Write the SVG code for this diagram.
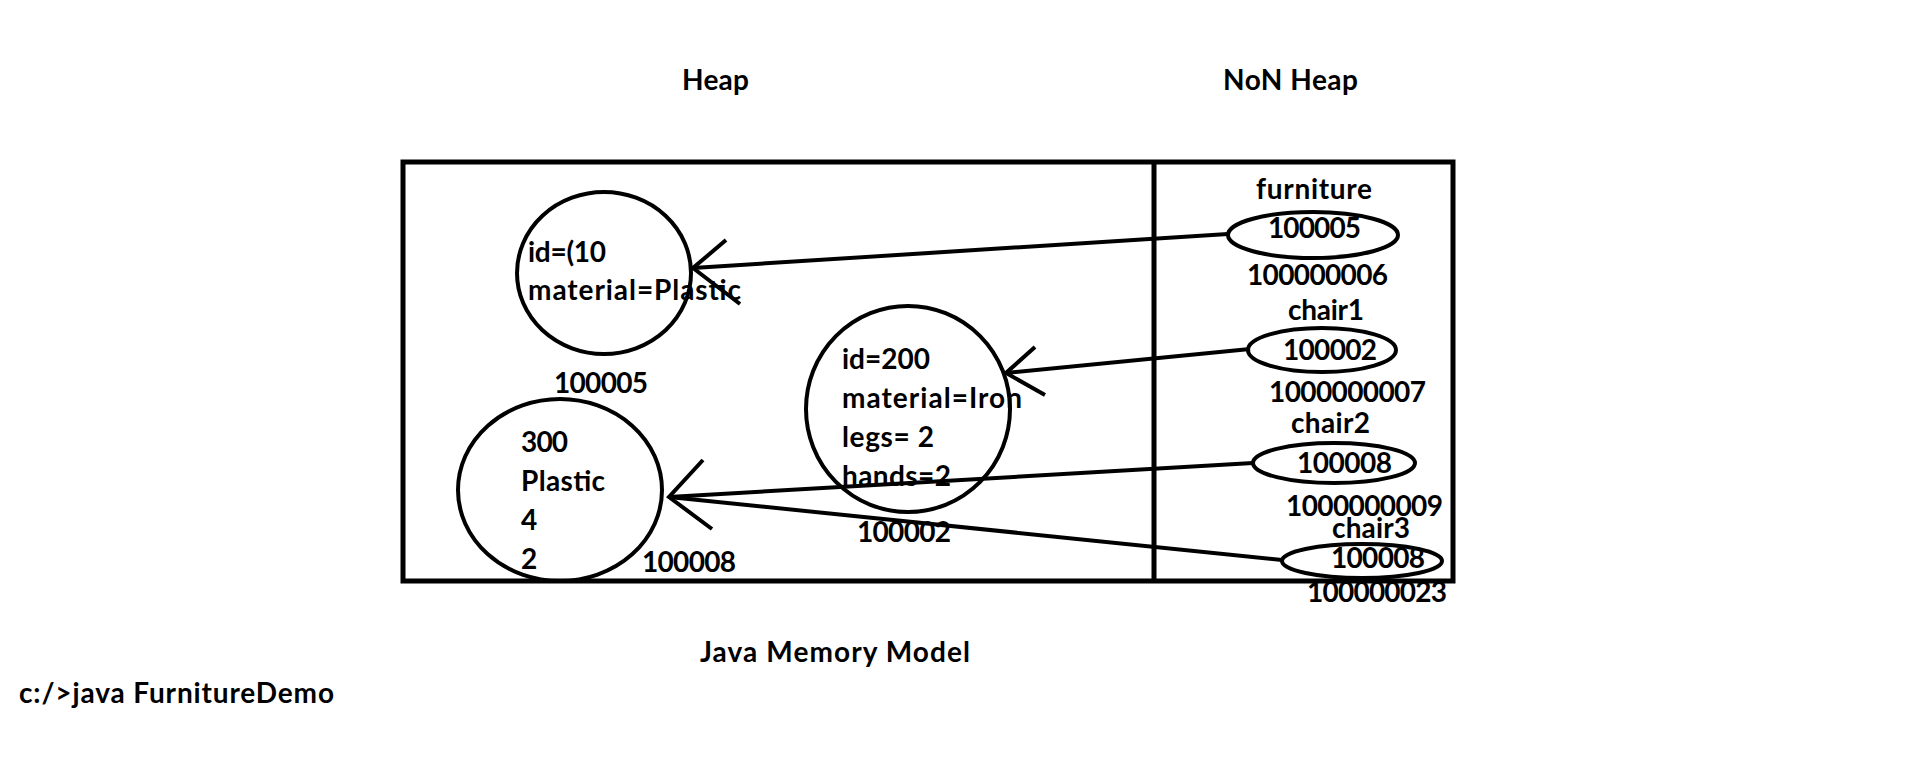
<svg xmlns="http://www.w3.org/2000/svg" width="1906" height="761" viewBox="0 0 1906 761">
<style>
text{font-family:Lato,"Open Sans","Liberation Sans",sans-serif;font-weight:bold;font-size:28px;fill:#000}
.shape{fill:none;stroke:#000;stroke-width:4}
.box{fill:none;stroke:#000;stroke-width:5}
.conn{fill:none;stroke:#000;stroke-width:4;stroke-linejoin:miter;stroke-linecap:butt}
</style>
<rect width="1906" height="761" fill="#fff"/>
<g id="titles">
<text x="682" y="90" textLength="67">Heap</text>
<text x="1223" y="90" textLength="135">NoN Heap</text>
<text x="700" y="662" textLength="270">Java Memory Model</text>
<text x="19" y="703" textLength="315">c:/&gt;java FurnitureDemo</text>
</g>
<g id="memory-box">
<rect class="box" x="403" y="162" width="1050" height="419"/>
<line class="box" x1="1154" y1="162" x2="1154" y2="581"/>
</g>
<g id="obj-100005">
<ellipse class="shape" cx="604" cy="273" rx="87" ry="81"/>
<text x="528" y="262" textLength="78">id=(10</text>
<text x="528" y="300" textLength="213">material=Plastic</text>
<text x="554" y="393" textLength="94">100005</text>
</g>
<g id="obj-100002">
<ellipse class="shape" cx="908" cy="409" rx="102" ry="103"/>
<text x="842" y="369" textLength="88">id=200</text>
<text x="842" y="408" textLength="180">material=Iron</text>
<text x="842" y="447" textLength="92">legs= 2</text>
<text x="842" y="486" textLength="109">hands=2</text>
<text x="857" y="542" textLength="94">100002</text>
</g>
<g id="obj-100008">
<ellipse class="shape" cx="560" cy="490" rx="102" ry="91"/>
<text x="521" y="452" textLength="47">300</text>
<text x="521" y="491" textLength="84">Plastic</text>
<text x="521" y="530">4</text>
<text x="521" y="569">2</text>
<text x="642" y="572" textLength="94">100008</text>
</g>
<g id="ref-furniture">
<text x="1256" y="199" textLength="116">furniture</text>
<ellipse class="shape" cx="1313" cy="235" rx="85" ry="23"/>
<text x="1268" y="238" textLength="93">100005</text>
<text x="1247" y="285" textLength="141">100000006</text>
</g>
<g id="ref-chair1">
<text x="1288" y="320" textLength="76">chair1</text>
<ellipse class="shape" cx="1322" cy="350" rx="74" ry="22"/>
<text x="1283" y="360" textLength="94">100002</text>
<text x="1269" y="402" textLength="157">1000000007</text>
</g>
<g id="ref-chair2">
<text x="1291" y="433" textLength="79">chair2</text>
<ellipse class="shape" cx="1334" cy="463" rx="81" ry="20"/>
<text x="1297" y="473" textLength="95">100008</text>
<text x="1286" y="516" textLength="157">1000000009</text>
</g>
<g id="ref-chair3">
<text x="1332" y="538" textLength="78">chair3</text>
<ellipse class="shape" cx="1362" cy="561" rx="80" ry="17"/>
<text x="1331" y="568" textLength="94">100008</text>
<text x="1307" y="602" textLength="140">100000023</text>
</g>
<g id="connectors">
<line class="conn" x1="1228" y1="234" x2="693" y2="268"/>
<polyline class="conn" points="726,240 693,268 740,304"/>
<line class="conn" x1="1250" y1="349" x2="1006" y2="373"/>
<polyline class="conn" points="1035,347 1006,373 1045,395"/>
<line class="conn" x1="1253" y1="463" x2="669" y2="497"/>
<line class="conn" x1="1282" y1="560" x2="669" y2="497"/>
<polyline class="conn" points="703,460 669,497 712,529"/>
</g>
</svg>
